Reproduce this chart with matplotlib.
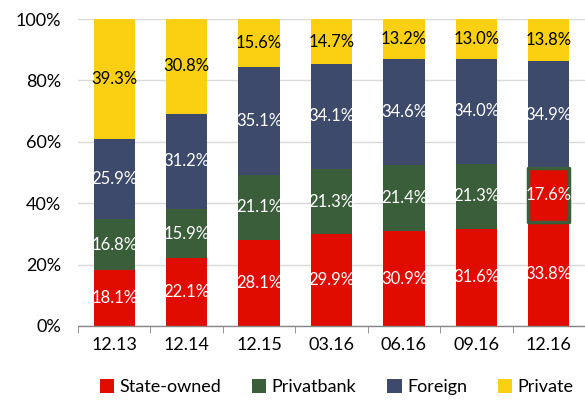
import matplotlib.pyplot as plt
import numpy as np
from matplotlib.ticker import PercentFormatter, FixedLocator

periods = ["12.13", "12.14", "12.15", "03.16", "06.16", "09.16", "12.16"]
state_owned = [18.1, 22.1, 28.1, 29.9, 30.9, 31.6, 33.8]
privatbank = [16.8, 15.9, 21.1, 21.3, 21.4, 21.3, 17.6]
foreign = [25.9, 31.2, 35.1, 34.1, 34.6, 34.0, 34.9]
private = [39.3, 30.8, 15.6, 14.7, 13.2, 13.0, 13.8]

RED = "#e00c00"
GREEN = "#3a5e3a"
NAVY = "#3d4a6b"
YELLOW = "#fbcf12"

plt.rcParams["font.family"] = ["Lato", "DejaVu Sans"]

series = [
    ("State-owned", state_owned, RED, "white"),
    ("Privatbank", privatbank, GREEN, "white"),
    ("Foreign", foreign, NAVY, "white"),
    ("Private", private, YELLOW, "black"),
]

fig = plt.figure(figsize=(5.85, 4.01), dpi=100)
ax = fig.add_axes([78 / 585, 1 - 326 / 401, 507 / 585, 307 / 401])

x = np.arange(len(periods))
width = 0.57
bottom = np.zeros(len(periods))
for name, vals, color, tcolor in series:
    vals = np.array(vals)
    ax.bar(x, vals, width, bottom=bottom, color=color, label=name, zorder=2)
    for xi, b, v in zip(x, bottom, vals):
        ax.text(xi, b + v / 2, f"{v:.1f}%", ha="center", va="center",
                color=tcolor, fontsize=12, zorder=4)
    bottom += vals

# Privatbank after nationalisation: shown in state-owned colour, outlined
last = len(periods) - 1
pb = ax.bar(x[last], privatbank[last], width, bottom=state_owned[last],
            color=RED, edgecolor=GREEN, linewidth=2.5, zorder=3)
pb[0].set_joinstyle("round")

ax.set_xlim(-0.5, len(periods) - 0.5)
ax.set_ylim(0, 100)
ax.yaxis.set_major_formatter(PercentFormatter(100, decimals=0))
ax.set_yticks(np.arange(0, 101, 20))
ax.grid(axis="y", color="#d9d9d9", linewidth=1, zorder=0)
ax.set_xticks(x)
ax.set_xticklabels(periods, fontsize=13)
ax.xaxis.set_minor_locator(FixedLocator(np.arange(-0.5, len(periods), 1)))
ax.tick_params(axis="x", which="major", length=0, pad=8)
ax.tick_params(axis="x", which="minor", length=5, color="#868686", direction="out")
ax.tick_params(axis="y", length=0, labelsize=13, pad=12)
for s in ["top", "right", "left"]:
    ax.spines[s].set_visible(False)
ax.spines["bottom"].set_color("#868686")
ax.spines["bottom"].set_linewidth(1)

ax.legend(loc="upper center", bbox_to_anchor=(0.51, -0.12), ncol=4, frameon=False,
          fontsize=13, handlelength=0.8, handleheight=0.8, handletextpad=0.3,
          columnspacing=1.7)

fig.savefig("out.png", dpi=100)
